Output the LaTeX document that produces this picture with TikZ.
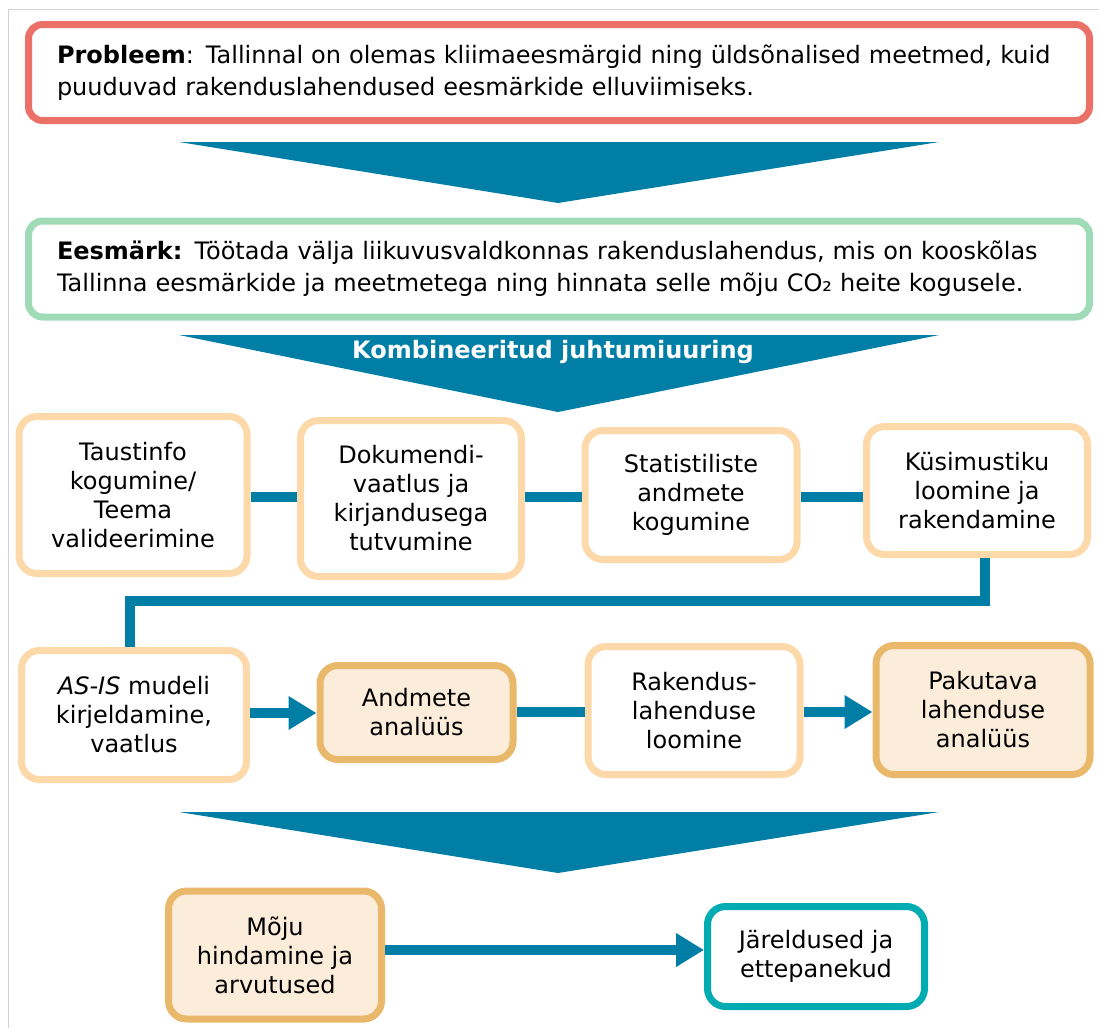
\documentclass[tikz,border=0pt]{standalone}
\usepackage{fontspec}
\setmainfont{DejaVu Sans}
\usetikzlibrary{arrows.meta}
\definecolor{probred}{RGB}{234,112,104}
\definecolor{goalgreen}{RGB}{160,219,184}
\definecolor{peach}{RGB}{253,217,170}
\definecolor{amber}{RGB}{233,184,106}
\definecolor{beige}{RGB}{251,237,218}
\definecolor{flowteal}{RGB}{0,126,166}
\definecolor{cyanb}{RGB}{0,172,178}
\definecolor{framegray}{RGB}{210,210,210}
\begin{document}
\begin{tikzpicture}[x=1pt,y=-1pt,
  txt/.style={font=\fontsize{24}{32}\selectfont},
  bigbox/.style={draw, line width=7pt, rounded corners=14pt, fill=white, minimum width=1061pt, minimum height=96pt, text width=1004pt, align=left, inner sep=0pt, txt},
  stepbox/.style={draw=peach, line width=7pt, rounded corners=18pt, fill=white, align=center, inner sep=0pt, font=\fontsize{24}{29}\selectfont},
  keybox/.style={stepbox, draw=amber, fill=beige},
  endbox/.style={stepbox, draw=cyanb},
  link/.style={draw=flowteal, line width=10pt},
  flowarrow/.style={link, -{Triangle[length=28pt,width=32pt]}},
  chevron/.style={fill=flowteal}
]
\useasboundingbox (0,0) rectangle (1099,1028);
% frame
\draw[framegray, line width=1pt] (8,1028) -- (8,9) -- (1099,9);

% problem and goal
\node[bigbox, draw=probred] (prob) at (559,72.5) {\textbf{Probleem}: Tallinnal on olemas kliimaeesmärgid ning üldsõnalised meetmed, kuid\\puuduvad rakenduslahendused eesmärkide elluviimiseks.};
\fill[chevron] (179,142) -- (939,142) -- (558,203) -- cycle;
\node[bigbox, draw=goalgreen] (goal) at (559,269) {\textbf{Eesmärk:} Töötada välja liikuvusvaldkonnas rakenduslahendus, mis on kooskõlas\\Tallinna eesmärkide ja meetmetega ning hinnata selle mõju CO₂ heite kogusele.};
\fill[chevron] (179,335) -- (939,335) -- (558,412) -- cycle;
\node[text=white, font=\fontsize{24}{28}\selectfont\bfseries] (method) at (553,352) {Kombineeritud juhtumiuuring};

% row 1
\node[stepbox, minimum width=228pt, minimum height=157pt] (b1) at (133,495) {Taustinfo\\kogumine/\\Teema\\valideerimine};
\node[stepbox, minimum width=221pt, minimum height=156pt] (b2) at (411,498.5) {Dokumendi-\\vaatlus ja\\kirjandusega\\tutvumine};
\node[stepbox, minimum width=212pt, minimum height=129pt] (b3) at (691,495) {Statistiliste\\andmete\\kogumine};
\node[stepbox, minimum width=221pt, minimum height=128pt] (b4) at (977,490.5) {Küsimustiku\\loomine ja\\rakendamine};
\draw[link] (b1.east |- 0,497) -- (b2.west |- 0,497);
\draw[link] (b2.east |- 0,497) -- (b3.west |- 0,497);
\draw[link] (b3.east |- 0,497) -- (b4.west |- 0,497);

% row 2
\node[stepbox, minimum width=225pt, minimum height=129pt] (c1) at (134,715) {\textit{AS-IS} mudeli\\kirjeldamine,\\vaatlus};
\node[keybox, minimum width=193pt, minimum height=94pt] (c2) at (416.5,712.5) {Andmete\\analüüs};
\node[stepbox, minimum width=212pt, minimum height=128pt] (c3) at (694,710.5) {Rakendus-\\lahenduse\\loomine};
\node[keybox, minimum width=214pt, minimum height=129pt] (c4) at (983,710) {Pakutava\\lahenduse\\analüüs};
\draw[link, rounded corners=0pt] (b4.south -| 985,0) -- (985,601) -- (130,601) -- (c1.north -| 130,0);
\draw[flowarrow] (c1.east |- 0,713) -- (c2.west |- 0,713);
\draw[link] (c2.east |- 0,712) -- (c3.west |- 0,712);
\draw[flowarrow] (c3.east |- 0,712) -- (c4.west |- 0,712);

% bottom
\fill[chevron] (179,812) -- (939,812) -- (558,873) -- cycle;
\node[keybox, minimum width=213pt, minimum height=128pt] (d1) at (275,955) {Mõju\\hindamine ja\\arvutused};
\node[endbox, minimum width=217pt, minimum height=100pt] (d2) at (816,956.5) {Järeldused ja\\ettepanekud};
\draw[flowarrow] (d1.east |- 0,950) -- (d2.west |- 0,950);
\end{tikzpicture}
\end{document}
